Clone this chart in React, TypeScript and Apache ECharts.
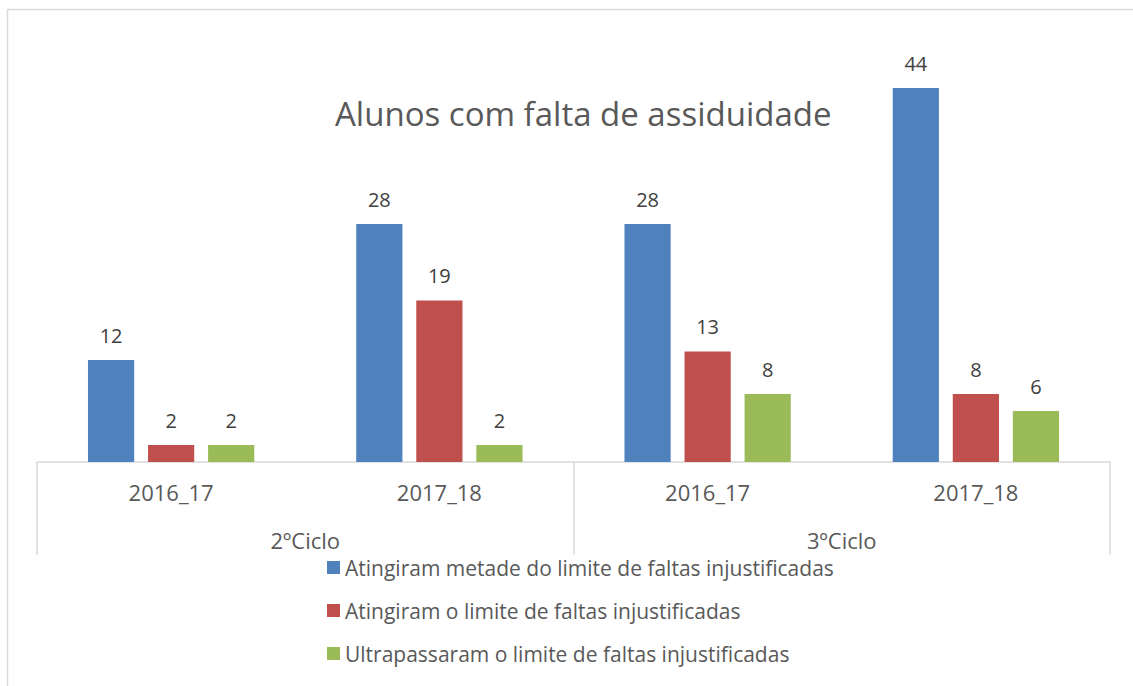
import React, { useEffect, useRef } from "react";
import * as echarts from "echarts";

const categories = ["2016_17", "2017_18", "2016_17", "2017_18"];
const groups = ["2ºCiclo", "3ºCiclo"];
const seriesNames = [
  "Atingiram metade do limite de faltas injustificadas",
  "Atingiram o limite de faltas injustificadas",
  "Ultrapassaram o limite de faltas injustificadas",
];
const metade = [12, 28, 28, 44];
const limite = [2, 19, 13, 8];
const ultrapassaram = [2, 2, 8, 6];
const colors = ["#4F81BD", "#C0504D", "#9BBB59"];

const FONT = "'Open Sans', 'Noto Sans', sans-serif";

export default function App() {
  const ref = useRef<HTMLDivElement>(null);
  useEffect(() => {
    const chart = echarts.init(ref.current!, null, { renderer: "svg" });
    const values = [metade, limite, ultrapassaram];
    chart.setOption({
      animation: false,
      backgroundColor: "#ffffff",
      textStyle: { fontFamily: FONT },
      title: {
        text: "Alunos com falta de assiduidade",
        left: 330,
        top: 92,
        textStyle: { fontSize: 33, fontWeight: "normal", color: "#595959", fontFamily: FONT },
      },
      graphic: [
        {
          type: "polyline",
          shape: { points: [[7.5, 686], [7.5, 9.5], [1133, 9.5]] },
          style: { fill: "none", stroke: "#D9D9D9", lineWidth: 1.5 },
          silent: true,
        },
      ],
      legend: {
        orient: "vertical",
        left: 322,
        top: 552,
        itemWidth: 13,
        itemHeight: 13,
        itemGap: 22,
        icon: "rect",
        textStyle: { fontSize: 21, color: "#595959", fontFamily: FONT },
        data: seriesNames,
      },
      grid: { left: 37, right: 23, top: 37, bottom: 224, containLabel: false },
      xAxis: [
        {
          type: "category",
          data: categories,
          position: "bottom",
          axisLine: { show: false },
          axisTick: { show: false },
          axisLabel: { margin: 18.5, fontSize: 22, color: "#595959", fontFamily: FONT },
        },
        {
          type: "category",
          data: groups,
          position: "bottom",
          axisLine: { show: true, lineStyle: { color: "#D9D9D9", width: 1.5 } },
          axisTick: { show: true, length: 93, lineStyle: { color: "#D9D9D9", width: 1.5 } },
          axisLabel: { margin: 66.5, fontSize: 22, color: "#595959", fontFamily: FONT },
        },
      ],
      yAxis: {
        type: "value",
        min: 0,
        max: 50,
        show: false,
        splitLine: { show: false },
      },
      series: seriesNames.map((name, i) => ({
        name,
        type: "bar",
        xAxisIndex: 0,
        data: values[i],
        itemStyle: { color: colors[i] },
        barGap: "30%",
        barCategoryGap: "38%",
        label: {
          show: true,
          position: "top",
          distance: 15,
          fontSize: 20,
          color: "#404040",
          fontFamily: FONT,
        },
      })),
    });
    return () => chart.dispose();
  }, []);
  return (
    <div
      ref={ref}
      style={{ position: "fixed", left: 0, top: 0, width: 1133, height: 686 }}
    />
  );
}
